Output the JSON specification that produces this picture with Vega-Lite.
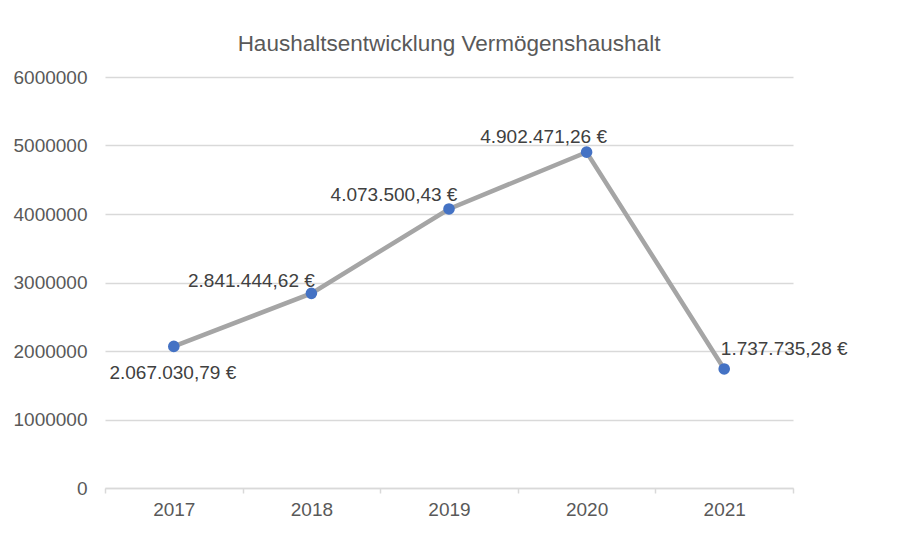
{
  "$schema": "https://vega.github.io/schema/vega-lite/v6.json",
  "width": 688,
  "height": 411,
  "autosize": {"type": "none"},
  "padding": {"left": 105, "top": 77, "right": 105, "bottom": 57},
  "background": "white",
  "title": {
    "text": "Haushaltsentwicklung Vermögenshaushalt",
    "font": "Liberation Sans",
    "fontSize": 22.5,
    "fontWeight": "normal",
    "color": "#595959",
    "anchor": "middle",
    "offset": 13
  },
  "config": {
    "view": {"stroke": null},
    "font": "Liberation Sans"
  },
  "data": {
    "values": [
      {"year": "2017", "value": 2067030.79, "label": "2.067.030,79 €"},
      {"year": "2018", "value": 2841444.62, "label": "2.841.444,62 €"},
      {"year": "2019", "value": 4073500.43, "label": "4.073.500,43 €"},
      {"year": "2020", "value": 4902471.26, "label": "4.902.471,26 €"},
      {"year": "2021", "value": 1737735.28, "label": "1.737.735,28 €"}
    ]
  },
  "encoding": {
    "x": {
      "field": "year",
      "type": "ordinal",
      "scale": {"type": "band", "paddingInner": 0, "paddingOuter": 0},
      "axis": {
        "title": null,
        "labelAngle": 0,
        "labelFont": "Liberation Sans",
        "labelFontSize": 19,
        "labelColor": "#595959",
        "labelPadding": 7,
        "domainColor": "#d9d9d9",
        "domainWidth": 1.5,
        "tickColor": "#d9d9d9",
        "tickWidth": 1.5,
        "tickSize": 5,
        "tickBand": "extent",
        "grid": false
      }
    },
    "y": {
      "field": "value",
      "type": "quantitative",
      "scale": {"domain": [0, 6000000], "nice": false},
      "axis": {
        "title": null,
        "values": [0, 1000000, 2000000, 3000000, 4000000, 5000000, 6000000],
        "format": "d",
        "labelFont": "Liberation Sans",
        "labelFontSize": 19,
        "labelColor": "#595959",
        "labelPadding": 18,
        "domain": false,
        "ticks": false,
        "grid": true,
        "gridColor": "#d9d9d9",
        "gridWidth": 1.5
      }
    }
  },
  "layer": [
    {"mark": {"type": "line", "color": "#A5A5A5", "strokeWidth": 4.5}},
    {"mark": {"type": "point", "filled": true, "color": "#4472C4", "opacity": 1, "size": 135}},
    {
      "transform": [{"filter": "datum.year == '2017'"}],
      "mark": {"type": "text", "fontSize": 19, "color": "#404040", "align": "center", "baseline": "middle", "dx": -1, "dy": 27},
      "encoding": {"text": {"field": "label"}}
    },
    {
      "transform": [{"filter": "datum.year == '2018'"}],
      "mark": {"type": "text", "fontSize": 19, "color": "#404040", "align": "center", "baseline": "middle", "dx": -60, "dy": -12},
      "encoding": {"text": {"field": "label"}}
    },
    {
      "transform": [{"filter": "datum.year == '2019'"}],
      "mark": {"type": "text", "fontSize": 19, "color": "#404040", "align": "center", "baseline": "middle", "dx": -55, "dy": -14},
      "encoding": {"text": {"field": "label"}}
    },
    {
      "transform": [{"filter": "datum.year == '2020'"}],
      "mark": {"type": "text", "fontSize": 19, "color": "#404040", "align": "center", "baseline": "middle", "dx": -43, "dy": -15},
      "encoding": {"text": {"field": "label"}}
    },
    {
      "transform": [{"filter": "datum.year == '2021'"}],
      "mark": {"type": "text", "fontSize": 19, "color": "#404040", "align": "center", "baseline": "middle", "dx": 60, "dy": -20},
      "encoding": {"text": {"field": "label"}}
    }
  ]
}
